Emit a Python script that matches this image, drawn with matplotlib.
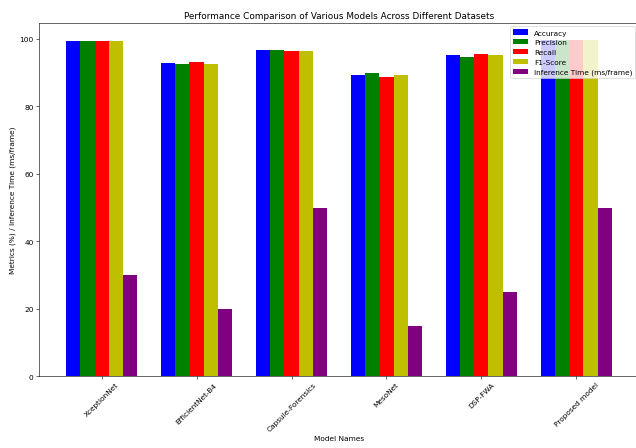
import numpy as np
import matplotlib
matplotlib.use("Agg")
import matplotlib.pyplot as plt

models = ['XceptionNet', 'EfficientNet-B4', 'Capsule-Forensics', 'MesoNet', 'DSP-FWA', 'Proposed model']
accuracy = [99.5, 93.0, 96.6, 89.3, 95.2, 99.8]
precision = [99.5, 92.5, 96.8, 89.8, 94.7, 99.8]
recall = [99.5, 93.1, 96.4, 88.8, 95.5, 99.8]
f1_score = [99.5, 92.6, 96.5, 89.3, 95.2, 99.8]
inference_time = [30, 20, 50, 15, 25, 50]

series = [
    (accuracy, 'Accuracy', 'b'),
    (precision, 'Precision', 'g'),
    (recall, 'Recall', 'r'),
    (f1_score, 'F1-Score', 'y'),
    (inference_time, 'Inference Time (ms/frame)', 'purple'),
]

# original looks like a 12-inch figure scaled down to 636px
fig, ax = plt.subplots(figsize=(12, 449 / 53), dpi=53)
fig.subplots_adjust(left=0.061, right=1.005, top=0.947, bottom=0.16)

x = np.arange(len(models))
width = 0.15
for j, (vals, label, color) in enumerate(series):
    ax.bar(x + (j - 2) * width, vals, width=width, label=label, color=color)

ax.set_xticks(x)
ax.set_xticklabels(models, rotation=45)
ax.set_xlabel('Model Names')
ax.set_ylabel('Metrics (%) / Inference Time (ms/frame)')
ax.set_title('Performance Comparison of Various Models Across Different Datasets')
ax.legend(loc='upper right')

fig.savefig('out.png', dpi=53)
